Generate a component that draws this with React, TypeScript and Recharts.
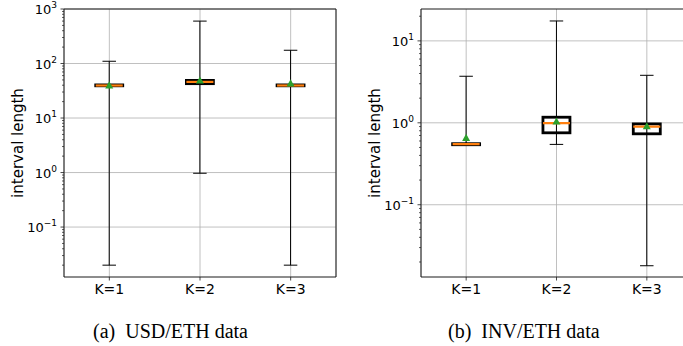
import React from 'react';
import { ComposedChart, Bar, XAxis, YAxis, CartesianGrid } from 'recharts';

const categories = ['K=1', 'K=2', 'K=3'];

// (a) USD/ETH data
const usdMin = [0.02, 0.97, 0.02];
const usdQ1 = [39, 42.7, 39];
const usdMedian = [39.5, 46, 39.5];
const usdQ3 = [40.5, 49, 40.5];
const usdMax = [110, 600, 175];
const usdMean = [40, 49, 43.5];

// (b) INV/ETH data
const invMin = [0.545, 0.545, 0.018];
const invQ1 = [0.54, 0.755, 0.734];
const invMedian = [0.548, 0.99, 0.9];
const invQ3 = [0.556, 1.17, 0.97];
const invMax = [3.7, 17.5, 3.8];
const invMean = [0.656, 1.04, 0.91];

const usdMajorTicks = [0.1, 1, 10, 100, 1000];
const invMajorTicks = [0.1, 1, 10];
const usdDomain = [0.01213, 1000];
const invDomain = [0.01312, 24.5];

const captionA = '(a)';
const captionAText = 'USD/ETH data';
const captionB = '(b)';
const captionBText = 'INV/ETH data';
const yLabel = 'interval length';

type Row = { k: string; min: number; q1: number; median: number; q3: number; max: number; mean: number };

function buildRows(mn: number[], q1: number[], md: number[], q3: number[], mx: number[], mean: number[]): Row[] {
  return categories.map((k, i) => ({ k, min: mn[i], q1: q1[i], median: md[i], q3: q3[i], max: mx[i], mean: mean[i] }));
}

function withMinor(major: number[], domain: number[]): number[] {
  const out: number[] = [];
  const lo = Math.floor(Math.log10(domain[0]));
  const hi = Math.ceil(Math.log10(domain[1]));
  for (let e = lo; e <= hi; e++) {
    for (let m = 1; m <= 9; m++) {
      const v = m * Math.pow(10, e);
      if (v >= domain[0] && v <= domain[1]) out.push(Number(v.toPrecision(6)));
    }
  }
  major.forEach((v) => { if (!out.includes(v)) out.push(v); });
  return out.sort((a, b) => a - b);
}

const usdRows = buildRows(usdMin, usdQ1, usdMedian, usdQ3, usdMax, usdMean);
const invRows = buildRows(invMin, invQ1, invMedian, invQ3, invMax, invMean);

const TICK_FONT = 'DejaVu Sans, sans-serif';
const AXIS_COLOR = '#1a1a1a';

const LogTick = (props: any) => {
  const { x, y, payload } = props;
  const v = payload.value as number;
  const lg = Math.log10(v);
  const exp = Math.round(lg);
  const isMajor = Math.abs(lg - exp) < 1e-6;
  if (!isMajor) {
    return <line x1={x} x2={x - 2} y1={y} y2={y} stroke={AXIS_COLOR} strokeWidth={0.7} />;
  }
  const expStr = exp < 0 ? '\u2212' + String(-exp) : String(exp);
  return (
    <g>
      <line x1={x} x2={x - 3.5} y1={y} y2={y} stroke={AXIS_COLOR} strokeWidth={0.8} />
      <text x={x - 7} y={y + 5} textAnchor="end" fontFamily={TICK_FONT} fontSize={13} fill="#000">
        10<tspan dy={-6} fontSize={9}>{expStr}</tspan>
      </text>
    </g>
  );
};

const WhiskerShape = (p: any) => {
  const { x, y, width, height } = p;
  if (x == null || y == null) return null;
  const cx = x + width / 2;
  const top = Math.min(y, y + height);
  const bot = Math.max(y, y + height);
  const hw = width / 4;
  return (
    <g>
      <line x1={cx} x2={cx} y1={top} y2={bot} stroke="#000" strokeWidth={1} />
      <line x1={cx - hw} x2={cx + hw} y1={top} y2={top} stroke="#000" strokeWidth={1} />
      <line x1={cx - hw} x2={cx + hw} y1={bot} y2={bot} stroke="#000" strokeWidth={1} />
    </g>
  );
};

const BoxShape = (p: any) => {
  const { x, y, width, height } = p;
  if (x == null || y == null) return null;
  const top = Math.min(y, y + height);
  const h = Math.abs(height);
  return <rect x={x} y={top} width={width} height={h} fill="none" stroke="#000" strokeWidth={2.8} />;
};

const MedianShape = (p: any) => {
  const { x, y, width } = p;
  if (x == null || y == null) return null;
  return <line x1={x} x2={x + width} y1={y} y2={y} stroke="#ff7f0e" strokeWidth={2.2} />;
};

const MeanShape = (p: any) => {
  const { x, y, width } = p;
  if (x == null || y == null) return null;
  const cx = x + width / 2;
  const s = 4;
  return <polygon points={`${cx},${y - s} ${cx - s},${y + s * 0.8} ${cx + s},${y + s * 0.8}`} fill="#2ca02c" />;
};

function BoxPanel({ rows, domain, major, width, margin }: { rows: Row[]; domain: number[]; major: number[]; width: number; margin: any }) {
  const ticks = withMinor(major, domain);
  return (
    <ComposedChart width={width} height={300} data={rows} margin={margin} barCategoryGap="35%">
      <CartesianGrid xAxisId="main" yAxisId="l" horizontalValues={major} stroke="#b0b0b0" strokeWidth={0.8} />
      <XAxis
        xAxisId="main"
        dataKey="k"
        height={23}
        tickSize={3.5}
        tickMargin={4}
        tick={{ fontFamily: TICK_FONT, fontSize: 14, fill: '#000' }}
        tickLine={{ stroke: AXIS_COLOR, strokeWidth: 0.8 }}
        axisLine={{ stroke: AXIS_COLOR, strokeWidth: 1 }}
      />
      <XAxis xAxisId="bx" dataKey="k" hide height={0} />
      <XAxis xAxisId="md" dataKey="k" hide height={0} />
      <XAxis xAxisId="mn" dataKey="k" hide height={0} />
      <XAxis xAxisId="top" dataKey="k" orientation="top" height={1} tick={false} tickLine={false} axisLine={{ stroke: AXIS_COLOR, strokeWidth: 1 }} />
      <YAxis
        yAxisId="l"
        scale="log"
        type="number"
        domain={domain}
        allowDataOverflow
        ticks={ticks}
        interval={0}
        width={50}
        tickSize={0}
        tickMargin={0}
        tickLine={false}
        tick={<LogTick />}
        axisLine={{ stroke: AXIS_COLOR, strokeWidth: 1 }}
      />
      <YAxis yAxisId="r" orientation="right" width={1} tick={false} tickLine={false} axisLine={{ stroke: AXIS_COLOR, strokeWidth: 1 }} />
      <Bar xAxisId="main" yAxisId="l" dataKey={(r: Row) => [r.min, r.max]} shape={<WhiskerShape />} isAnimationActive={false} />
      <Bar xAxisId="bx" yAxisId="l" dataKey={(r: Row) => [r.q1, r.q3]} shape={<BoxShape />} isAnimationActive={false} />
      <Bar xAxisId="md" yAxisId="l" dataKey="median" shape={<MedianShape />} isAnimationActive={false} />
      <Bar xAxisId="mn" yAxisId="l" dataKey="mean" shape={<MeanShape />} isAnimationActive={false} />
    </ComposedChart>
  );
}

export default function App() {
  return (
    <div style={{ position: 'fixed', left: 0, top: 0, width: 683, height: 346, overflow: 'hidden', background: '#fff' }}>
      <div style={{ position: 'absolute', left: 0, top: 0 }}>
        <BoxPanel rows={usdRows} domain={usdDomain} major={usdMajorTicks} width={340} margin={{ top: 8, right: 3, left: 14, bottom: 0 }} />
      </div>
      <div style={{ position: 'absolute', left: 341, top: 0 }}>
        <BoxPanel rows={invRows} domain={invDomain} major={invMajorTicks} width={360} margin={{ top: 8, right: 8, left: 30, bottom: 0 }} />
      </div>
      <svg width={683} height={346} style={{ position: 'absolute', left: 0, top: 0, pointerEvents: 'none' }}>
        <text transform="translate(23,143) rotate(-90)" textAnchor="middle" fontFamily={TICK_FONT} fontSize={15} fill="#000">{yLabel}</text>
        <text transform="translate(380,143) rotate(-90)" textAnchor="middle" fontFamily={TICK_FONT} fontSize={15} fill="#000">{yLabel}</text>
        <text x={93} y={338} fontFamily="Liberation Serif, Times New Roman, serif" fontSize={20} fill="#000">
          {captionA}<tspan dx={5}> {captionAText}</tspan>
        </text>
        <text x={448} y={338} fontFamily="Liberation Serif, Times New Roman, serif" fontSize={20} fill="#000">
          {captionB}<tspan dx={5}> {captionBText}</tspan>
        </text>
      </svg>
    </div>
  );
}
